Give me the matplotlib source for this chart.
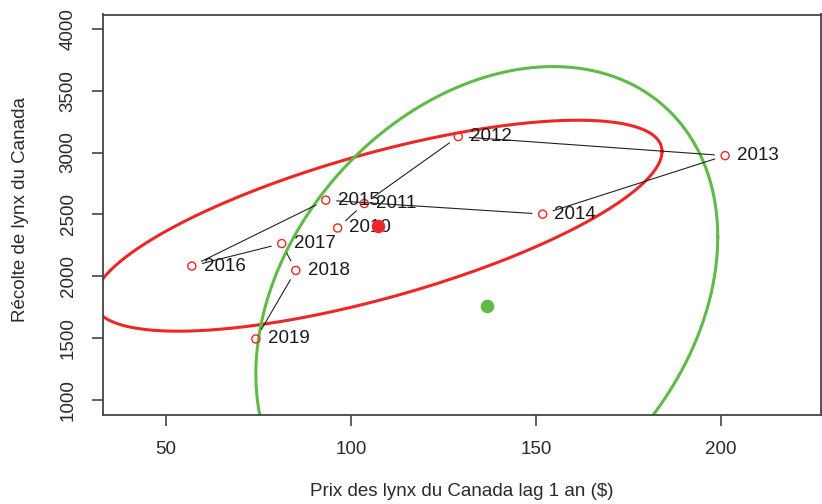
import numpy as np
import matplotlib
matplotlib.use("Agg")
import matplotlib.pyplot as plt

# ---- data ----
years = ["2010", "2011", "2012", "2013", "2014", "2015", "2016", "2017", "2018", "2019"]
price_lag1 = [96.4, 103.6, 129.0, 201.1, 151.8, 93.2, 57.0, 81.3, 85.1, 74.3]
harvest = [2390, 2588, 3129, 2975, 2502, 2615, 2082, 2264, 2047, 1493]

# second (green) ellipse: centre, half-extents and correlation
green_mean_x = 136.7
green_mean_y = 1763
green_half_x = 62.4
green_half_y = 1932
green_rho = 0.287

ellipse_radius = 1.80  # in standard deviations

x_ticks = [50, 100, 150, 200]
y_ticks = [1000, 1500, 2000, 2500, 3000, 3500, 4000]

RED = "#EE2626"
GREEN = "#5DBB46"
FONT = "Liberation Sans"
FS = 13.5

plt.rcParams['font.family'] = [FONT, 'DejaVu Sans']

fig = plt.figure(figsize=(8.22, 5.04), dpi=100)
ax = fig.add_axes([103 / 822, 1 - 415 / 504, (821 - 103) / 822, (415 - 14.5) / 504])
ax.set_xlim(33, 227)
ax.set_ylim(878, 4116)

x = np.array(price_lag1, dtype=float)
y = np.array(harvest, dtype=float)

# red data ellipse from the points' covariance
mx, my = x.mean(), y.mean()
sx, sy = x.std(ddof=1), y.std(ddof=1)
r = np.corrcoef(x, y)[0, 1]
t = np.linspace(0, 2 * np.pi, 400)
d = np.arccos(r)
ex = mx + ellipse_radius * sx * np.cos(t)
ey = my + ellipse_radius * sy * np.cos(t - d)
ax.plot(ex, ey, color=RED, lw=2.2, zorder=2)

# green ellipse
dg = np.arccos(green_rho)
gx = green_mean_x + green_half_x * np.cos(t)
gy = green_mean_y + green_half_y * np.cos(t - dg)
ax.plot(gx, gy, color=GREEN, lw=2.2, zorder=2)

# connecting lines with gaps around points (like R type="b")
fig.canvas.draw()
trans = ax.transData
inv = trans.inverted()
pts = trans.transform(np.column_stack([x, y]))
gap = 11.0
for i in range(len(x) - 1):
    p0, p1 = pts[i], pts[i + 1]
    v = p1 - p0
    L = np.hypot(*v)
    if L <= 2 * gap:
        continue
    u = v / L
    a = inv.transform(p0 + u * gap)
    b = inv.transform(p1 - u * gap)
    ax.plot([a[0], b[0]], [a[1], b[1]], color="#222222", lw=0.8, zorder=3)

# open circles
ax.scatter(x, y, s=34, facecolors="none", edgecolors=RED, linewidths=1.0, zorder=4)

# labels to the right
for xi, yi, lab in zip(x, y, years):
    ax.annotate(lab, (xi, yi), xytext=(8.5, 0), textcoords="offset points",
                ha="left", va="center", fontsize=FS, color="#1a1a1a", zorder=5)

# means
ax.scatter([mx], [my], s=95, color=RED, zorder=6, linewidths=0)
ax.scatter([green_mean_x], [green_mean_y], s=95, color=GREEN, zorder=6, linewidths=0)

# axes styling (R-like)
for s in ax.spines.values():
    s.set_color("#444444")
    s.set_linewidth(1.3)
ax.set_xticks(x_ticks)
ax.set_yticks(y_ticks)
ax.set_xticklabels([str(v) for v in x_ticks])
ax.set_yticklabels([str(v) for v in y_ticks], rotation=90, va="center")
ax.tick_params(axis="both", direction="out", length=8, width=1.2, color="#444444",
               labelsize=FS, labelcolor="#2a2a2a", pad=11)

fig.text(462 / 822, 1 - 491 / 504, "Prix des lynx du Canada lag 1 an ($)",
         ha="center", va="center", fontsize=FS, color="#2a2a2a")
fig.text(21 / 822, 1 - 209 / 504, "Récolte de lynx du Canada", rotation=90,
         ha="center", va="center", fontsize=FS, color="#2a2a2a")

fig.savefig("out.png", dpi=100)
